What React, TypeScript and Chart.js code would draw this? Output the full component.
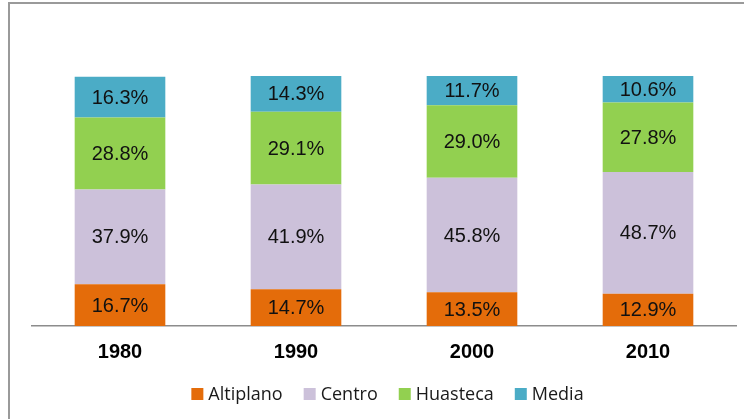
import React, { useEffect, useRef } from "react";
import { Chart, registerables } from "chart.js";

Chart.register(...registerables);

const years = ["1980", "1990", "2000", "2010"];
const altiplano = [16.7, 14.7, 13.5, 12.9];
const centro = [37.9, 41.9, 45.8, 48.7];
const huasteca = [28.8, 29.1, 29.0, 27.8];
const media = [16.3, 14.3, 11.7, 10.6];

const seriesNames = ["Altiplano", "Centro", "Huasteca", "Media"];
const seriesColors = ["#E46C0A", "#CCC1DA", "#92D050", "#4BACC6"];

const valueLabels = {
  id: "valueLabels",
  afterDatasetsDraw(chart: any) {
    const ctx = chart.ctx;
    ctx.save();
    ctx.font = '20px "Liberation Sans", Arial, sans-serif';
    ctx.fillStyle = "#111";
    ctx.textAlign = "center";
    ctx.textBaseline = "middle";
    chart.data.datasets.forEach((ds: any, i: number) => {
      const meta = chart.getDatasetMeta(i);
      meta.data.forEach((el: any, j: number) => {
        const p = el.getProps(["x", "y", "base"], true);
        ctx.fillText(ds.data[j].toFixed(1) + "%", p.x, (p.y + p.base) / 2 + 1);
      });
    });
    ctx.restore();
  },
};

const customLegend = {
  id: "customLegend",
  afterDraw(chart: any) {
    const ctx = chart.ctx;
    ctx.save();
    ctx.font = '18px "Open Sans", sans-serif';
    ctx.textBaseline = "middle";
    ctx.textAlign = "left";
    const box = 12;
    const gap = 5;
    const itemGap = 21;
    const items = chart.data.datasets.map((ds: any) => ({
      label: ds.label,
      color: ds.backgroundColor,
      w: ctx.measureText(ds.label).width,
    }));
    const total =
      items.reduce((s: number, it: any) => s + box + gap + it.w, 0) +
      itemGap * (items.length - 1);
    const ca = chart.chartArea;
    let x = (ca.left + ca.right) / 2 + 3.5 - total / 2;
    const y = 394;
    items.forEach((it: any) => {
      ctx.fillStyle = it.color;
      ctx.fillRect(x, y - box / 2, box, box);
      ctx.fillStyle = "#1a1a1a";
      ctx.fillText(it.label, x + box + gap, y + 1);
      x += box + gap + it.w + itemGap;
    });
    ctx.restore();
  },
};

export default function App() {
  const ref = useRef<HTMLCanvasElement>(null);

  useEffect(() => {
    if (!ref.current) return;
    const seriesData = [altiplano, centro, huasteca, media];
    const chart = new Chart(ref.current, {
      type: "bar",
      data: {
        labels: years,
        datasets: seriesNames.map((name, i) => ({
          label: name,
          data: seriesData[i],
          backgroundColor: seriesColors[i],
          borderWidth: 0,
          categoryPercentage: 1,
          barPercentage: 0.515,
        })),
      },
      options: {
        responsive: false,
        animation: false,
        layout: { padding: { left: 32, right: 8, top: 76, bottom: 41 } },
        plugins: {
          legend: { display: false },
          tooltip: { enabled: false },
          title: { display: false },
        },
        scales: {
          x: {
            stacked: true,
            grid: { display: false, drawTicks: false },
            border: { display: true, color: "#8c8c8c", width: 1.5 },
            ticks: {
              color: "#000",
              padding: 14,
              font: { family: '"Liberation Sans", Arial, sans-serif', size: 20, weight: "bold", lineHeight: 1.2 },
            },
          },
          y: {
            stacked: true,
            display: false,
            min: 0,
            max: 100,
          },
        },
      },
      plugins: [valueLabels, customLegend],
    });
    return () => chart.destroy();
  }, []);

  return (
    <div
      style={{
        position: "fixed",
        left: 0,
        top: 0,
        width: 744,
        height: 419,
        overflow: "hidden",
        background: "#fff",
      }}
    >
      <div
        style={{
          position: "absolute",
          left: 8,
          top: 2,
          width: 800,
          height: 500,
          border: "2px solid #9a9a9a",
          boxSizing: "border-box",
        }}
      />
      <canvas
        ref={ref}
        width={744}
        height={419}
        style={{ position: "absolute", left: 0, top: 0, width: 744, height: 419 }}
      />
    </div>
  );
}
